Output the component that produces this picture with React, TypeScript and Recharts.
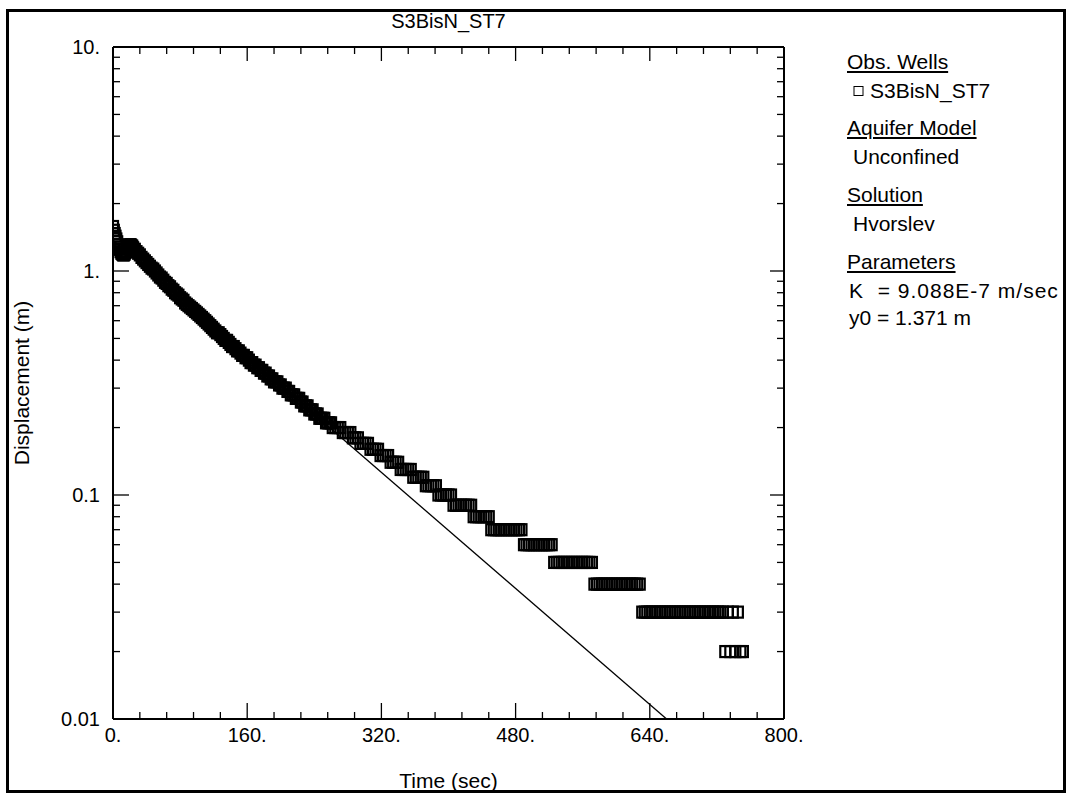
import { ComposedChart, Line, Scatter, XAxis, YAxis } from "recharts";

// observed well data: time (sec)
const obsTime = [
  // early oscillation
  0, 1, 2, 3, 4, 5, 6, 7, 8, 9, 10, 11, 12, 13, 14, 15, 16, 17, 18, 19, 20, 21, 22, 23,
  // smooth recovery
  24, 26, 28, 30, 32, 34, 36, 38, 40, 42,
  44, 46, 48, 50, 52, 54, 56, 58, 60, 62,
  64, 66, 68, 70, 72, 74, 76, 78, 80, 82,
  84, 86, 88, 90, 92, 94, 96, 98, 100, 102,
  104, 106, 108, 110, 112, 114, 116, 118, 120, 122,
  124, 126, 128, 130, 132, 134, 136, 138, 140, 142,
  144, 146, 148, 150, 152, 154, 156, 158, 160, 162,
  164, 166, 168, 170, 172, 174, 176, 178, 180, 182,
  184, 186, 188, 190, 192, 194, 196, 198, 200, 202,
  204, 206, 208, 210, 212, 214, 216, 218, 220, 222,
  224, 226, 228, 230, 232, 234, 236, 238, 240, 242,
  244, 246, 248, 250, 252, 254, 256, 258, 260, 262,
  // quantised tail
  265, 268, 271,
  274, 277, 280, 283,
  286, 289, 292,
  295, 298, 301, 304,
  307, 310, 313, 316,
  319, 322, 325, 328,
  331, 334, 337, 340,
  343, 346, 349, 352, 355,
  358, 361, 364, 367, 370,
  373, 376, 379, 382, 385,
  388, 391, 394, 397, 400, 403,
  406, 409, 412, 415, 418, 421, 424, 427,
  430, 433, 436, 439, 442, 445, 448,
  451, 454, 457, 460, 463, 466, 469, 472, 475, 478, 481, 484, 487,
  490, 493, 496, 499, 502, 505, 508, 511, 514, 517, 520, 523,
  526, 529, 532, 535, 538, 541, 544, 547, 550, 553, 556, 559, 562, 565, 568, 571,
  574, 577, 580, 583, 586, 589, 592, 595, 598, 601, 604, 607, 610, 613, 616, 619, 622, 625, 628,
  631, 634, 637, 640, 643, 646, 649, 652, 655, 658, 661, 664, 667, 670, 673, 676, 679,
  682, 685, 688, 691, 694, 697, 700, 703, 706, 709, 712, 715, 718, 721, 724, 727,
  730, 733, 736, 739, 742, 745, 748, 751,
];

// observed well data: displacement (m)
const obsDisp = [
  1.58, 1.52, 1.47, 1.43, 1.39, 1.35, 1.31, 1.28, 1.25, 1.22, 1.2, 1.19, 1.18, 1.18, 1.19, 1.21,
  1.23, 1.26, 1.28, 1.3, 1.31, 1.31, 1.3, 1.29,
  1.27, 1.25, 1.22, 1.2, 1.18, 1.15, 1.13, 1.11, 1.09, 1.07,
  1.05, 1.03, 1.02, 1.0, 0.98, 0.96, 0.94, 0.93, 0.91, 0.89,
  0.88, 0.86, 0.85, 0.83, 0.82, 0.8, 0.79, 0.78, 0.76, 0.75,
  0.74, 0.72, 0.71, 0.7, 0.69, 0.68, 0.67, 0.66, 0.65, 0.64,
  0.63, 0.62, 0.61, 0.6, 0.59, 0.58, 0.57, 0.56, 0.55, 0.54,
  0.53, 0.53, 0.52, 0.51, 0.5, 0.49, 0.49, 0.48, 0.47, 0.46,
  0.46, 0.45, 0.44, 0.44, 0.43, 0.42, 0.42, 0.41, 0.41, 0.4,
  0.39, 0.39, 0.38, 0.38, 0.37, 0.37, 0.36, 0.36, 0.35, 0.35,
  0.34, 0.34, 0.33, 0.33, 0.32, 0.32, 0.32, 0.31, 0.31, 0.3,
  0.3, 0.3, 0.29, 0.29, 0.28, 0.28, 0.28, 0.27, 0.27, 0.27,
  0.26, 0.26, 0.25, 0.25, 0.25, 0.24, 0.24, 0.24, 0.23, 0.23,
  0.23, 0.22, 0.22, 0.22, 0.22, 0.21, 0.21, 0.21, 0.21, 0.2,
  0.2, 0.2, 0.2,
  0.19, 0.19, 0.19, 0.19,
  0.18, 0.18, 0.18,
  0.17, 0.17, 0.17, 0.17,
  0.16, 0.16, 0.16, 0.16,
  0.15, 0.15, 0.15, 0.15,
  0.14, 0.14, 0.14, 0.14,
  0.13, 0.13, 0.13, 0.13, 0.13,
  0.12, 0.12, 0.12, 0.12, 0.12,
  0.11, 0.11, 0.11, 0.11, 0.11,
  0.1, 0.1, 0.1, 0.1, 0.1, 0.1,
  0.09, 0.09, 0.09, 0.09, 0.09, 0.09, 0.09, 0.09,
  0.08, 0.08, 0.08, 0.08, 0.08, 0.08, 0.08,
  0.07, 0.07, 0.07, 0.07, 0.07, 0.07, 0.07, 0.07, 0.07, 0.07, 0.07, 0.07, 0.07,
  0.06, 0.06, 0.06, 0.06, 0.06, 0.06, 0.06, 0.06, 0.06, 0.06, 0.06, 0.06,
  0.05, 0.05, 0.05, 0.05, 0.05, 0.05, 0.05, 0.05, 0.05, 0.05, 0.05, 0.05, 0.05, 0.05, 0.05, 0.05,
  0.04, 0.04, 0.04, 0.04, 0.04, 0.04, 0.04, 0.04, 0.04, 0.04, 0.04, 0.04, 0.04, 0.04, 0.04, 0.04,
  0.04, 0.04, 0.04,
  0.03, 0.03, 0.03, 0.03, 0.03, 0.03, 0.03, 0.03, 0.03, 0.03, 0.03, 0.03, 0.03, 0.03, 0.03, 0.03,
  0.03, 0.03, 0.03, 0.03, 0.03, 0.03, 0.03, 0.03, 0.03, 0.03, 0.03, 0.03, 0.03, 0.03, 0.03, 0.03,
  0.03,
  0.02, 0.03, 0.02, 0.03, 0.02, 0.03, 0.02, 0.02,
];

// Hvorslev solution line
const fitTime = [0, 660];
const fitDisp = [1.371, 0.01];

const xMajor = [0, 160, 320, 480, 640, 800];
const xTicks = [
  0, 32, 64, 96, 128, 160, 192, 224, 256, 288, 320, 352, 384, 416, 448, 480,
  512, 544, 576, 608, 640, 672, 704, 736, 768, 800,
];
const yMajor = [0.01, 0.1, 1, 10];
const yMajorLabels = ["0.01", "0.1", "1.", "10."];
const yTicks = [
  0.01, 0.02, 0.03, 0.04, 0.05, 0.06, 0.07, 0.08, 0.09,
  0.1, 0.2, 0.3, 0.4, 0.5, 0.6, 0.7, 0.8, 0.9,
  1, 2, 3, 4, 5, 6, 7, 8, 9, 10,
];

const obsData = obsTime.map((t, i) => ({ t, d: obsDisp[i] }));
const fitData = fitTime.map((t, i) => ({ t, d: fitDisp[i] }));

const FONT = "'Liberation Sans', Arial, Helvetica, sans-serif";

const BottomTick = (props: any) => {
  const { x, y, payload } = props;
  const v = payload.value;
  const major = xMajor.includes(v);
  return (
    <g>
      <line x1={x} y1={y} x2={x} y2={y - (major ? 16 : 7)} stroke="#000" strokeWidth={1.3} />
      {major && (
        <text x={x} y={y + 23} textAnchor="middle" fontSize={20} fontFamily={FONT} fill="#000">
          {`${v}.`}
        </text>
      )}
    </g>
  );
};

const TopTick = (props: any) => {
  const { x, y, payload } = props;
  const major = xMajor.includes(payload.value);
  return <line x1={x} y1={y} x2={x} y2={y + (major ? 14 : 7)} stroke="#000" strokeWidth={1.3} />;
};

const LeftTick = (props: any) => {
  const { x, y, payload } = props;
  const idx = yMajor.indexOf(payload.value);
  return (
    <g>
      <line x1={x} y1={y} x2={x + (idx >= 0 ? 16 : 7)} y2={y} stroke="#000" strokeWidth={1.3} />
      {idx >= 0 && (
        <text x={x - 13} y={y + 7} textAnchor="end" fontSize={20} fontFamily={FONT} fill="#000">
          {yMajorLabels[idx]}
        </text>
      )}
    </g>
  );
};

const RightTick = (props: any) => {
  const { x, y, payload } = props;
  const major = yMajor.includes(payload.value);
  return <line x1={x} y1={y} x2={x - (major ? 14 : 7)} y2={y} stroke="#000" strokeWidth={1.3} />;
};

const SquareMark = (props: any) => {
  const { cx, cy } = props;
  return (
    <rect x={cx - 5} y={cy - 5.5} width={10} height={11} fill="none" stroke="#000" strokeWidth={2.2} />
  );
};

const legendLine = (top: number, left: number, text: string, underline = false) => (
  <div
    style={{
      position: "absolute",
      top: top - 12,
      left,
      height: 24,
      lineHeight: "24px",
      fontSize: 21,
      whiteSpace: "pre",
      textDecoration: underline ? "underline" : "none",
    }}
  >
    {text}
  </div>
);

export default function App() {
  return (
    <div
      style={{
        position: "fixed",
        left: 0,
        top: 0,
        width: 1068,
        height: 793,
        background: "#fff",
        overflow: "hidden",
        fontFamily: FONT,
        color: "#000",
      }}
    >
      <div style={{ position: "absolute", left: 0, top: 0 }}>
        <ComposedChart width={1068} height={793} margin={{ top: 37, right: 274, bottom: 34, left: 53 }}>
          <XAxis
            xAxisId="bottom"
            dataKey="t"
            type="number"
            domain={[0, 800]}
            ticks={xTicks}
            interval={0}
            height={40}
            tickSize={0}
            tickMargin={0}
            tick={<BottomTick />}
            axisLine={{ stroke: "#000", strokeWidth: 2 }}
            allowDataOverflow
          />
          <XAxis
            xAxisId="top"
            orientation="top"
            dataKey="t"
            type="number"
            domain={[0, 800]}
            ticks={xTicks}
            interval={0}
            height={10}
            tickSize={0}
            tickMargin={0}
            tick={<TopTick />}
            axisLine={{ stroke: "#000", strokeWidth: 2 }}
            allowDataOverflow
          />
          <YAxis
            yAxisId="left"
            dataKey="d"
            type="number"
            scale="log"
            domain={[0.01, 10]}
            ticks={yTicks}
            interval={0}
            width={60}
            tickSize={0}
            tickMargin={0}
            tick={<LeftTick />}
            axisLine={{ stroke: "#000", strokeWidth: 2 }}
            allowDataOverflow
          />
          <YAxis
            yAxisId="right"
            orientation="right"
            dataKey="d"
            type="number"
            scale="log"
            domain={[0.01, 10]}
            ticks={yTicks}
            interval={0}
            width={10}
            tickSize={0}
            tickMargin={0}
            tick={<RightTick />}
            axisLine={{ stroke: "#000", strokeWidth: 2 }}
            allowDataOverflow
          />
          <Scatter
            xAxisId="bottom"
            yAxisId="left"
            data={obsData}
            dataKey="d"
            shape={<SquareMark />}
            isAnimationActive={false}
          />
          <Line
            xAxisId="top"
            yAxisId="right"
            data={fitData}
            dataKey="d"
            type="linear"
            stroke="#000"
            strokeWidth={1.3}
            dot={false}
            activeDot={false}
            isAnimationActive={false}
          />
        </ComposedChart>
      </div>

      {/* title */}
      <div
        style={{
          position: "absolute",
          left: 113,
          width: 671,
          top: 9,
          textAlign: "center",
          fontSize: 20,
          lineHeight: "24px",
        }}
      >
        S3BisN_ST7
      </div>

      {/* axis titles */}
      <div
        style={{
          position: "absolute",
          left: 113,
          width: 671,
          top: 769,
          textAlign: "center",
          fontSize: 21,
          lineHeight: "24px",
        }}
      >
        Time (sec)
      </div>
      <div
        style={{
          position: "absolute",
          left: 22 - 150,
          top: 383 - 12,
          width: 300,
          height: 24,
          lineHeight: "24px",
          textAlign: "center",
          fontSize: 21,
          transform: "rotate(-90deg)",
        }}
      >
        Displacement (m)
      </div>

      {/* legend */}
      {legendLine(62, 847, "Obs. Wells", true)}
      <div
        style={{
          position: "absolute",
          top: 91 - 12,
          left: 853,
          height: 24,
          lineHeight: "24px",
          fontSize: 21,
          whiteSpace: "pre",
          display: "flex",
          alignItems: "center",
        }}
      >
        <svg width={11} height={12} style={{ marginRight: 6 }}>
          <rect x={1} y={1.5} width={9} height={9} fill="none" stroke="#000" strokeWidth={1} />
        </svg>
        S3BisN_ST7
      </div>
      {legendLine(128, 847, "Aquifer Model", true)}
      {legendLine(157, 853, "Unconfined")}
      {legendLine(195, 847, "Solution", true)}
      {legendLine(224, 853, "Hvorslev")}
      {legendLine(262, 847, "Parameters", true)}
      <div
        style={{
          position: "absolute",
          top: 291 - 12,
          left: 849,
          height: 24,
          lineHeight: "24px",
          fontSize: 21,
          whiteSpace: "pre",
          letterSpacing: 1,
        }}
      >
        {"K  = 9.088E-7 m/sec"}
      </div>
      {legendLine(318, 849, "y0 = 1.371 m")}

      {/* outer frame */}
      <div
        style={{
          position: "absolute",
          left: 6,
          top: 9,
          width: 1060,
          height: 784,
          border: "3px solid #000",
          boxSizing: "border-box",
          pointerEvents: "none",
        }}
      />
    </div>
  );
}
